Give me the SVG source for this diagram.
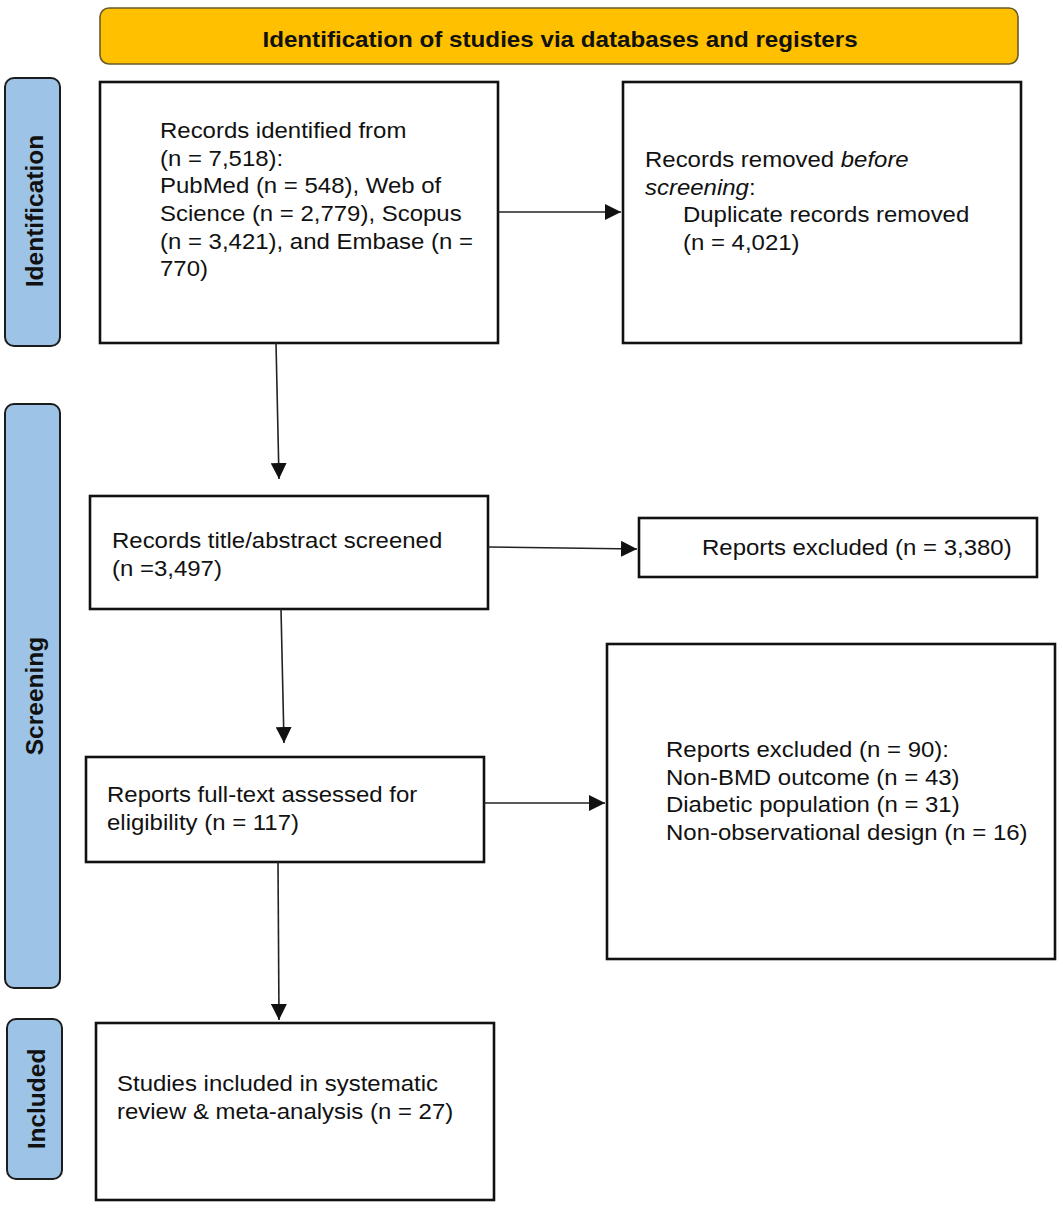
<svg xmlns="http://www.w3.org/2000/svg" width="1063" height="1212" viewBox="0 0 1063 1212">
<defs>
<marker id="ah" viewBox="0 0 16 16" refX="16" refY="8" markerWidth="16" markerHeight="16" markerUnits="userSpaceOnUse" orient="auto">
<path d="M0,0 L16,8 L0,16 z" fill="#111"/>
</marker>
<style>
.box{fill:#fff;stroke:#111;stroke-width:2.6}
.side{fill:#9DC3E6;stroke:#1c1c1c;stroke-width:2}
.banner{fill:#FFC000;stroke:#6b5a2a;stroke-width:1.6}
.t{font-family:"Liberation Sans",Arial,sans-serif;font-size:22.4px;fill:#111}
.sl{font-family:"Liberation Sans",Arial,sans-serif;font-size:24.5px;font-weight:bold;fill:#111;text-anchor:middle}
.title{font-family:"Liberation Sans",Arial,sans-serif;font-size:22.4px;font-weight:bold;fill:#111;text-anchor:middle}
.c{stroke:#222;stroke-width:1.6;fill:none;marker-end:url(#ah)}
.i{font-style:italic}
</style>
</defs>
<rect width="1063" height="1212" fill="#fff"/>

<g id="banner">
<rect class="banner" x="100" y="8" width="918" height="56" rx="9"/>
<text class="title" transform="translate(560,47) scale(1.08 1)">Identification of studies via databases and registers</text>
</g>

<g id="side-identification">
<rect class="side" x="5" y="78" width="55" height="268" rx="9"/>
<text class="sl" transform="translate(43,211) rotate(-90)">Identification</text>
</g>
<g id="side-screening">
<rect class="side" x="5" y="404" width="55" height="584" rx="9"/>
<text class="sl" transform="translate(43,696) rotate(-90)">Screening</text>
</g>
<g id="side-included">
<rect class="side" x="7" y="1019" width="55" height="160" rx="9"/>
<text class="sl" transform="translate(45,1099) rotate(-90)">Included</text>
</g>

<g id="records-identified">
<rect class="box" x="100" y="82" width="398" height="261"/>
<text class="t" transform="translate(160,138) scale(1.07 1)">
<tspan x="0" dy="0">Records identified from</tspan>
<tspan x="0" dy="27.7">(n = 7,518):</tspan>
<tspan x="0" dy="27.7">PubMed (n = 548), Web of</tspan>
<tspan x="0" dy="27.7">Science (n = 2,779), Scopus</tspan>
<tspan x="0" dy="27.7">(n = 3,421), and Embase (n =</tspan>
<tspan x="0" dy="27.7">770)</tspan>
</text>
</g>

<g id="records-removed">
<rect class="box" x="623" y="82" width="398" height="261"/>
<text class="t" transform="translate(645,167) scale(1.07 1)">
<tspan x="0" dy="0">Records removed <tspan class="i">before</tspan></tspan>
<tspan x="0" dy="27.7"><tspan class="i">screening</tspan>:</tspan>
<tspan x="35.5" dy="27.7">Duplicate records removed</tspan>
<tspan x="35.5" dy="27.7">(n = 4,021)</tspan>
</text>
</g>

<g id="records-screened">
<rect class="box" x="90" y="496" width="398" height="113"/>
<text class="t" transform="translate(112,548) scale(1.07 1)">
<tspan x="0" dy="0">Records title/abstract screened</tspan>
<tspan x="0" dy="28">(n =3,497)</tspan>
</text>
</g>

<g id="reports-excluded-1">
<rect class="box" x="639" y="518" width="398" height="59"/>
<text class="t" transform="translate(702,555) scale(1.07 1)">Reports excluded (n = 3,380)</text>
</g>

<g id="reports-assessed">
<rect class="box" x="86" y="757" width="398" height="105"/>
<text class="t" transform="translate(107,802) scale(1.07 1)">
<tspan x="0" dy="0">Reports full-text assessed for</tspan>
<tspan x="0" dy="28">eligibility (n = 117)</tspan>
</text>
</g>

<g id="reports-excluded-2">
<rect class="box" x="607" y="644" width="448" height="315"/>
<text class="t" transform="translate(666,757) scale(1.07 1)">
<tspan x="0" dy="0">Reports excluded (n = 90):</tspan>
<tspan x="0" dy="27.7">Non-BMD outcome (n = 43)</tspan>
<tspan x="0" dy="27.7">Diabetic population (n = 31)</tspan>
<tspan x="0" dy="27.7">Non-observational design (n = 16)</tspan>
</text>
</g>

<g id="studies-included">
<rect class="box" x="96" y="1023" width="398" height="177"/>
<text class="t" transform="translate(117,1091) scale(1.07 1)">
<tspan x="0" dy="0">Studies included in systematic</tspan>
<tspan x="0" dy="28">review &amp; meta-analysis (n = 27)</tspan>
</text>
</g>

<g id="connectors">
<path class="c" d="M498,212 L621,212"/>
<path class="c" d="M276,343 L279,479"/>
<path class="c" d="M488,547 L637,549"/>
<path class="c" d="M281,609 L284,743"/>
<path class="c" d="M484,803 L605,803"/>
<path class="c" d="M278,862 L279,1020"/>
</g>
</svg>
